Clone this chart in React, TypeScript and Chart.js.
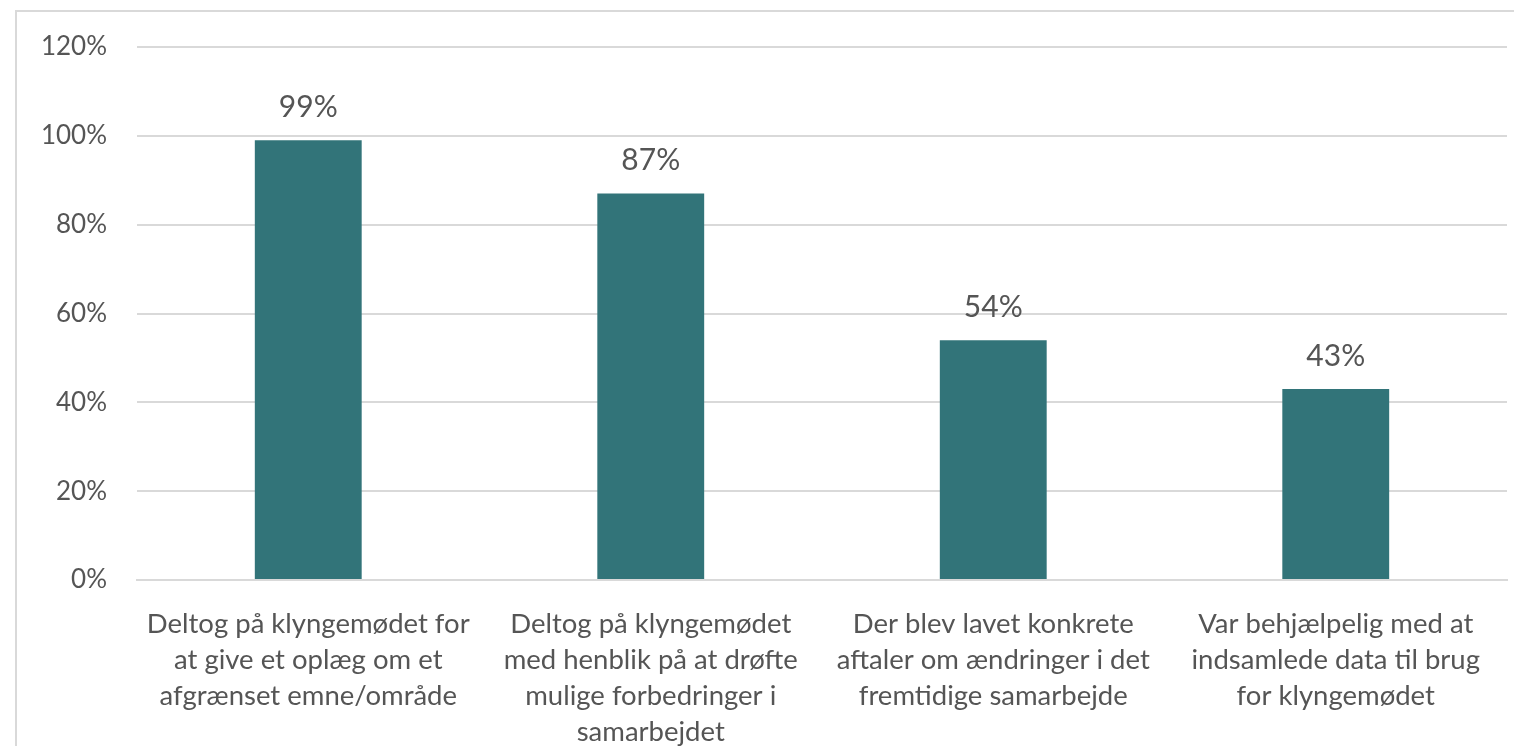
import React, { useEffect, useRef } from "react";
import { Chart, registerables } from "chart.js";

Chart.register(...registerables);

const categories: string[][] = [
  ["Deltog på klyngemødet for", "at give et oplæg om et", "afgrænset emne/område"],
  ["Deltog på klyngemødet", "med henblik på at drøfte", "mulige forbedringer i", "samarbejdet"],
  ["Der blev lavet konkrete", "aftaler om ændringer i det", "fremtidige samarbejde"],
  ["Var behjælpelig med at", "indsamlede data til brug", "for klyngemødet"],
];
const values: number[] = [99, 87, 54, 43];
const yTicks: number[] = [0, 20, 40, 60, 80, 100, 120];

const BAR_COLOR = "#327479";
const TEXT_COLOR = "#555555";
const FONT = "Lato, 'Open Sans', sans-serif";

const valueLabels = {
  id: "valueLabels",
  afterDatasetsDraw(chart: any) {
    const ctx = chart.ctx;
    const meta = chart.getDatasetMeta(0);
    ctx.save();
    ctx.font = `30px ${FONT}`;
    ctx.fillStyle = TEXT_COLOR;
    ctx.textAlign = "center";
    ctx.textBaseline = "middle";
    meta.data.forEach((bar: any, i: number) => {
      ctx.fillText(values[i] + "%", bar.x, bar.y - 33);
    });
    ctx.restore();
  },
};

export default function App() {
  const ref = useRef<HTMLCanvasElement>(null);
  useEffect(() => {
    if (!ref.current) return;
    const chart = new Chart(ref.current, {
      type: "bar",
      data: {
        labels: categories,
        datasets: [
          {
            data: values,
            backgroundColor: BAR_COLOR,
            categoryPercentage: 1,
            barPercentage: 0.312,
          },
        ],
      },
      options: {
        animation: false,
        responsive: false,
        maintainAspectRatio: false,
        layout: { padding: { left: 0, right: 7, top: 47, bottom: 0 } },
        plugins: { legend: { display: false }, tooltip: { enabled: false } },
        scales: {
          x: {
            grid: { display: false, drawTicks: false },
            border: { display: true, color: "#d9d9d9", width: 2 },
            ticks: {
              color: TEXT_COLOR,
              font: { family: FONT, size: 27.5, lineHeight: 1.31 },
              padding: 26,
              maxRotation: 0,
              autoSkip: false,
            },
            afterFit(scale: any) {
              scale.height = 166;
            },
          },
          y: {
            min: 0,
            max: 120,
            afterBuildTicks(scale: any) {
              scale.ticks = yTicks.map((v) => ({ value: v }));
            },
            grid: { color: "#d9d9d9", lineWidth: 2, drawTicks: false },
            border: { display: false },
            ticks: {
              color: TEXT_COLOR,
              font: { family: FONT, size: 26 },
              padding: 30,
              callback: (v: any) => v + "%",
            },
            afterFit(scale: any) {
              scale.width = 137;
            },
          },
        },
      },
      plugins: [valueLabels],
    });
    return () => chart.destroy();
  }, []);

  return (
    <div style={{ position: "absolute", left: 0, top: 0, width: 1514, height: 746, background: "#fff", overflow: "hidden" }}>
      <div
        style={{
          position: "absolute",
          left: 15,
          top: 10,
          right: -10,
          bottom: -10,
          borderLeft: "2px solid #d9d9d9",
          borderTop: "2px solid #d9d9d9",
        }}
      />
      <canvas ref={ref} width={1514} height={746} style={{ position: "absolute", left: 0, top: 0 }} />
    </div>
  );
}
